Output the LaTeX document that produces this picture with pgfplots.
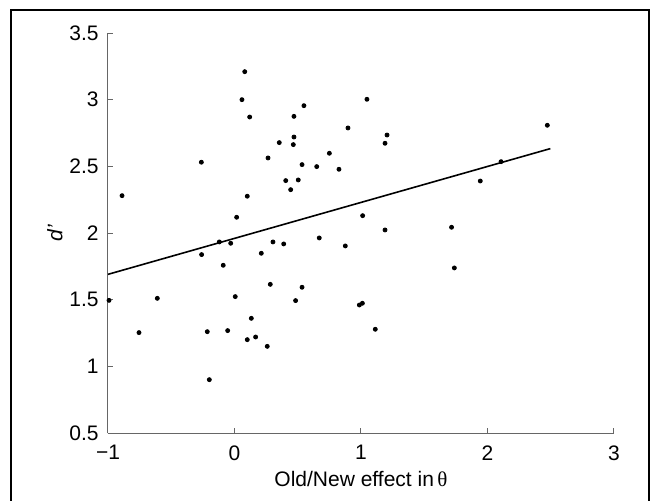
\documentclass[border=0pt]{standalone}
\usepackage{pgfplots}
\pgfplotsset{compat=1.18}
\usepackage{fontspec}
\setmainfont{Liberation Sans}
\newfontfamily\serifth{Liberation Serif}
\begin{document}
\fontsize{10.5}{12}\selectfont
\begin{tikzpicture}[x=1pt,y=1pt]
\begin{axis}[
  at={(54pt,33.5pt)}, anchor=south west,
  scale only axis, width=253pt, height=200pt,
  xmin=-1, xmax=3, ymin=0.5, ymax=3.5,
  axis x line=bottom, axis y line=left,
  axis line style={-, draw=black!60, line width=0.5pt},
  tick align=inside, major tick length=2.5pt,
  tick style={draw=black!60, line width=0.5pt},
  xtick={-1,0,1,2,3}, xticklabels={−1,0,1,2,3},
  ytick={0.5,1,1.5,2,2.5,3,3.5}, yticklabels={0.5,1,1.5,2,2.5,3,3.5},
  xticklabel style={yshift=-2.5pt},
  yticklabel style={xshift=-1pt},
  xlabel={Old/New effect in\,{\serifth θ}},
  ylabel={\itshape d'},
  xlabel style={at={(axis description cs:0.5,0)}, anchor=center, yshift=-23pt},
  ylabel style={at={(axis description cs:-0.105,0.5)}, anchor=center},
  clip=false,
]
\addplot[only marks, mark=*, mark size=1pt, black] table {
x y
-0.889 2.28
-0.262 2.531
0.081 3.21
0.059 3.0
0.120 2.87
0.101 2.276
0.017 2.118
-0.120 1.933
-0.030 1.923
0.265 2.563
0.354 2.678
0.470 2.875
0.470 2.72
0.465 2.663
0.549 2.955
0.534 2.513
0.650 2.498
0.405 2.393
0.504 2.398
0.444 2.325
0.304 1.933
0.389 1.918
0.670 1.963
1.047 3.003
0.897 2.788
1.206 2.735
1.190 2.673
0.750 2.598
0.826 2.478
2.473 2.808
2.107 2.535
1.943 2.39
1.013 2.13
1.190 2.023
1.716 2.043
0.876 1.903
-0.992 1.495
-0.610 1.51
-0.755 1.253
-0.260 1.838
0.212 1.848
-0.089 1.758
0.283 1.615
0.534 1.593
0.006 1.523
0.483 1.493
0.133 1.36
-0.215 1.26
-0.054 1.268
0.101 1.2
0.167 1.22
0.259 1.15
-0.199 0.90
1.738 1.738
0.987 1.46
1.011 1.473
1.113 1.278
};
\addplot[black, line width=0.8pt] coordinates {(-1,1.69) (2.497,2.633)};
\end{axis}
\draw[line width=1pt] (5.5,-2) -- (5.5,245) -- (324.5,245) -- (324.5,-2);
\pgfresetboundingbox
\useasboundingbox (0,0) rectangle (325,250);
\end{tikzpicture}
\end{document}
